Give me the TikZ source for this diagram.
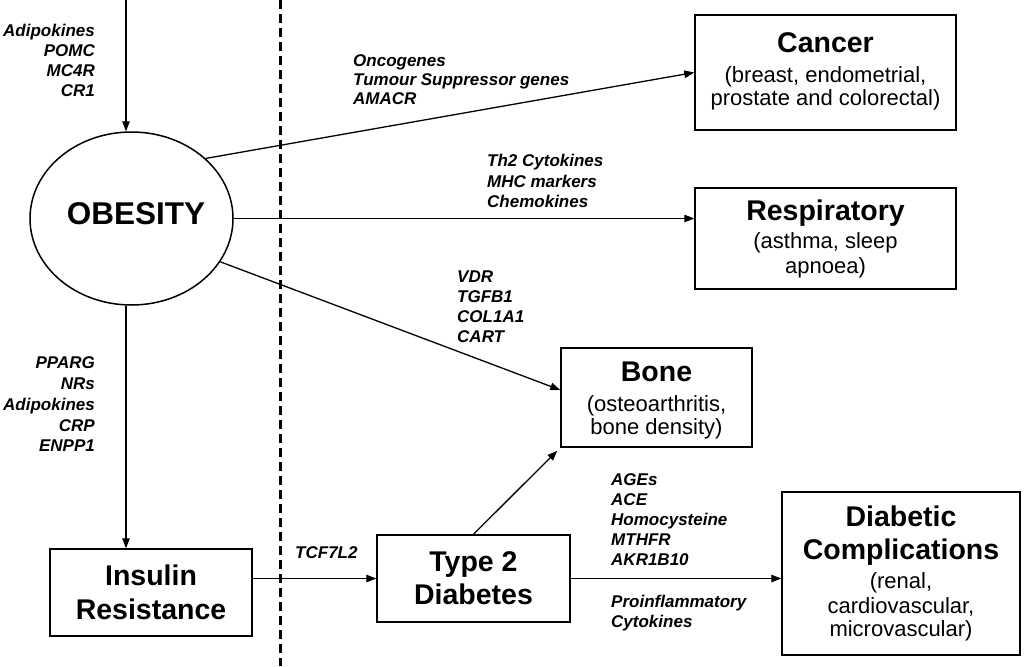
\documentclass[tikz,border=0pt]{standalone}
\usepackage{fontspec}
\setmainfont{Liberation Sans}
\usetikzlibrary{shapes.geometric,arrows.meta,calc}
\newcommand\titlefont{\fontsize{28.5}{33}\selectfont\bfseries}
\newcommand\subfont{\fontsize{22}{23.5}\selectfont}
\newcommand\genefont{\fontsize{17}{20}\selectfont\bfseries\itshape}
\begin{document}
\begin{tikzpicture}[x=1pt,y=-1pt,
  box/.style={draw,line width=1.5pt,inner sep=0pt,align=center,font=\subfont},
  conn/.style={line width=1.3pt,-{Triangle[length=10pt,width=7.5pt]}},
  genes/.style={inner sep=0pt,font=\genefont},
]
\useasboundingbox[fill=white] (0,0) rectangle (1024,666);

% divider
\coordinate (dtop) at (280.5,0);
\coordinate (dbot) at (280.5,666);
\draw[line width=2.4pt,dash pattern=on 9pt off 5pt] (dtop) -- (dbot);

% obesity
\node[draw,ellipse,line width=1.5pt,minimum width=203pt,minimum height=173pt,inner sep=0pt] (ob) at (131.5,218.5) {};
\node[inner sep=0pt,font=\fontsize{31.5}{36}\selectfont\bfseries] (obt) at (136,214) {OBESITY};

% boxes
\node[box,minimum width=261pt,minimum height=115pt] (cancer) at (825.5,72.5)
  {{\titlefont Cancer}\\[6.5pt](breast, endometrial,\\prostate and colorectal)\rule[-7pt]{0pt}{0pt}};
\node[box,minimum width=261pt,minimum height=101pt] (resp) at (825.5,238.5)
  {{\titlefont Respiratory}\\[5pt](asthma, sleep\\[1pt]apnoea)};
\node[box,minimum width=191pt,minimum height=99pt] (bone) at (656.5,397.5)
  {\rule{0pt}{26pt}{\titlefont Bone}\\[6.5pt](osteoarthritis,\\bone density)};
\node[box,font=\titlefont,minimum width=193pt,minimum height=87pt] (t2d) at (473.5,578.5)
  {Type 2\\Diabetes};
\node[box,font=\titlefont,minimum width=202pt,minimum height=87pt] (ir) at (151,592.5)
  {Insulin\\[1pt]Resistance};
\node[box,minimum width=238pt,minimum height=163pt] (dc) at (901,573.5)
  {{\titlefont Diabetic}\\[9.5pt]{\titlefont Complications}\\[5.5pt](renal,\\[1.5pt]cardiovascular,\\[-1pt]microvascular)};

% gene labels
\node[genes,anchor=east,align=right] (g1) at (95,60.5) {Adipokines\\POMC\\MC4R\\CR1};
\node[genes,anchor=east,align=right,font={\fontsize{17}{20.75}\selectfont\bfseries\itshape}] (g2) at (95,404.4)
  {PPARG\\NRs\\Adipokines\\CRP\\ENPP1};
\node[genes,anchor=west,align=left,font={\fontsize{17}{19}\selectfont\bfseries\itshape}] (g3) at (353,80)
  {Oncogenes\\Tumour Suppressor genes\\AMACR};
\node[genes,anchor=west,align=left,font={\fontsize{17}{20.7}\selectfont\bfseries\itshape}] (g4) at (487,181)
  {Th2 Cytokines\\MHC markers\\Chemokines};
\node[genes,anchor=west,align=left] (g5) at (457,307) {VDR\\TGFB1\\COL1A1\\CART};
\node[genes,anchor=base west] (g6) at (295,558) {TCF7L2};
\node[genes,anchor=west,align=left] (g7) at (611,520) {AGEs\\ACE\\Homocysteine\\MTHFR\\AKR1B10};
\node[genes,anchor=west,align=left] (g8) at (611,613.4) {Proinflammatory\\Cytokines};

% connectors
\coordinate (top) at (126,0);
\draw[conn] (top) -- (top |- ob.north);
\draw[conn] (ob.south -| top) -- (ir.north -| top);
\draw[conn] (ob.39) -- (cancer.west);
\draw[conn] (ob.east) -- (ob.east -| resp.west);
\draw[conn] (ob.-26) -- (bone.west |- 0,390);
\draw[conn] (ir.east |- t2d.west) -- (t2d.west);
\draw[conn] (t2d.north) -- ($(bone.south west)+(-3,3)$);
\draw[conn] (t2d.east) -- (t2d.east -| dc.west);
\end{tikzpicture}
\end{document}
